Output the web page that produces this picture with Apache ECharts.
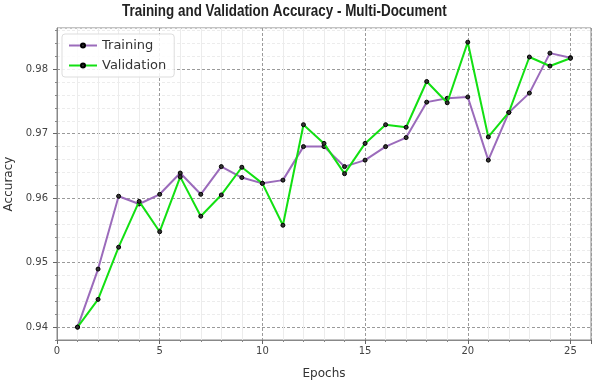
<!DOCTYPE html>
<html>
<head>
<meta charset="utf-8">
<script src="https://cdn.jsdelivr.net/npm/echarts@6/dist/echarts.min.js"></script>
<style>html,body{margin:0;padding:0;background:#fff}#c{width:595px;height:385px}</style>
</head>
<body>
<div id="c"></div>
<script>
const epochs = [1,2,3,4,5,6,7,8,9,10,11,12,13,14,15,16,17,18,19,20,21,22,23,24,25];
const training = [0.9400,0.9490,0.9603,0.9591,0.9606,0.9639,0.9606,0.9649,0.9632,0.9623,0.9628,0.9680,0.9680,0.9649,0.9659,0.9680,0.9694,0.9749,0.9755,0.9757,0.9659,0.9733,0.9763,0.9825,0.9818];
const validation = [0.9400,0.9443,0.9524,0.9595,0.9548,0.9633,0.9572,0.9605,0.9648,0.9623,0.9558,0.9714,0.9685,0.9638,0.9685,0.9714,0.9710,0.9781,0.9748,0.9842,0.9695,0.9733,0.9819,0.9805,0.9817];
const yTicks = [0.94,0.95,0.96,0.97,0.98];
const xTicks = [0,5,10,15,20,25];
const titleText = 'Training and Validation Accuracy - Multi-Document';

const chart = echarts.init(document.getElementById('c'), null, {renderer:'canvas'});
const font = 'DejaVu Sans';
const yMin = 0.938, yMax = 0.9864, yMinorStep = 0.002;
function pairs(vals){ return epochs.map((e,i)=>[e, vals[i]]); }
const isMajor = v => yTicks.some(t => Math.abs(t - v) < 1e-7);

chart.setOption({
  animation:false,
  backgroundColor:'#fff',
  graphic:[{
    type:'text', x:122, y:3, scaleX:0.79, scaleY:1,
    style:{text:titleText, font:"bold 17px 'Liberation Sans', Arial, sans-serif", fill:'#222'}
  }],
  grid:{left:57, right:4, top:28, bottom:45, outerBoundsMode:'none', containLabel:false,
    show:true, borderColor:'#888', borderWidth:1, backgroundColor:'transparent'},
  legend:{
    left:62, top:34, orient:'vertical',
    itemWidth:28, itemHeight:5, itemGap:7,
    padding:[5,8,5,6],
    backgroundColor:'rgba(255,255,255,0.85)', borderColor:'#ddd', borderWidth:1, borderRadius:3,
    textStyle:{fontFamily:font, fontSize:13, color:'#333'},
    data:['Training','Validation']
  },
  xAxis:{
    type:'value', min:0, max:26, interval:5,
    name:'Epochs', nameLocation:'middle', nameGap:28,
    nameTextStyle:{fontFamily:font, fontSize:12, color:'#333'},
    axisLine:{show:true, lineStyle:{color:'#888'}},
    axisTick:{show:true, length:4, lineStyle:{color:'#666'}},
    minorTick:{show:true, splitNumber:5, length:2, lineStyle:{color:'#888'}},
    axisLabel:{fontFamily:font, fontSize:10, color:'#444', margin:6, showMaxLabel:false,
      formatter: v => xTicks.includes(v) ? String(v) : ''},
    splitLine:{show:true, lineStyle:{color:'#9a9a9a', type:[3,2], width:1}},
    minorSplitLine:{show:true, lineStyle:{color:'#ececec', width:1}}
  },
  yAxis:[{
    type:'value', min:yMin, max:yMax, interval:yMinorStep,
    name:'Accuracy', nameLocation:'middle', nameGap:40,
    nameTextStyle:{fontFamily:font, fontSize:12, color:'#333'},
    axisLine:{show:true, lineStyle:{color:'#888'}},
    axisTick:{show:true, length:2, lineStyle:{color:'#888'}},
    axisLabel:{fontFamily:font, fontSize:10, color:'#444', margin:9, showMaxLabel:false,
      formatter: v => isMajor(v) ? v.toFixed(2) : ''},
    splitLine:{show:true, lineStyle:{color:['#ececec','#9a9a9a','#ececec','#ececec','#ececec'], type:[3,2], width:1}}
  },{
    type:'value', min:yMin, max:yMax, interval:0.01, position:'left',
    axisLine:{show:false}, axisLabel:{show:false},
    axisTick:{show:true, length:4, lineStyle:{color:'#666'}, customValues: yTicks},
    splitLine:{show:false}
  }],
  series:[{
    name:'Training', type:'line', data:pairs(training),
    symbol:'circle', symbolSize:4, showAllSymbol:true,
    lineStyle:{color:'#9b6bbb', width:2},
    itemStyle:{color:'#333', borderColor:'#000', borderWidth:1},
    z:2
  },{
    name:'Validation', type:'line', data:pairs(validation),
    symbol:'circle', symbolSize:4, showAllSymbol:true,
    lineStyle:{color:'#12e012', width:2},
    itemStyle:{color:'#333', borderColor:'#000', borderWidth:1},
    z:3
  }]
});
</script>
</body>
</html>
